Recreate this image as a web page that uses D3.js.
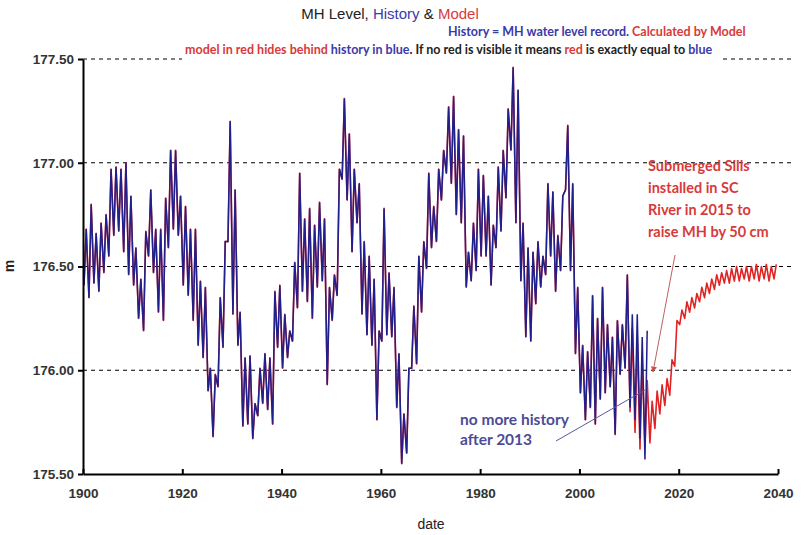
<!DOCTYPE html>
<html>
<head>
<meta charset="utf-8">
<script src="https://cdn.jsdelivr.net/npm/d3@7"></script>
<style>
  body { margin: 0; background: #fff; }
  svg { display: block; }
  .tick text { font-family: "Liberation Sans", Arial, sans-serif; font-weight: bold; font-size: 13.5px; fill: #333; }
</style>
</head>
<body>
<div id="chart"></div>
<script>
// MH water level, history (record) and model, one high and one low per year
var histStart = 1900;
var histHigh = [
  176.68,176.80,176.66,176.71,176.75,176.97,176.98,176.97,177.00,176.84,
  176.59,176.44,176.67,176.87,176.68,176.68,176.83,177.06,177.06,176.84,
  176.79,176.68,176.68,176.43,176.40,176.01,175.98,176.35,176.62,177.20,
  176.87,176.28,176.06,176.07,175.84,176.01,176.08,176.06,176.38,176.41,
  176.27,176.19,176.52,176.95,176.73,176.78,176.70,176.81,176.73,176.40,
  176.46,176.97,177.31,177.14,176.97,176.90,176.62,176.55,176.44,176.19,
  176.78,176.47,176.40,176.08,175.79,176.01,176.31,176.55,176.62,176.95,
  176.79,176.97,177.06,177.27,177.32,177.16,177.13,176.57,176.71,176.97,
  176.94,176.84,176.70,176.98,177.06,177.26,177.46,177.35,176.71,176.59,
  176.57,176.62,176.55,176.90,176.86,176.65,176.84,177.18,176.90,176.40,
  176.12,176.09,176.36,176.25,176.40,176.22,176.16,176.24,176.22,176.46,
  176.27,176.27,176.16,176.19
];
var histLow = [
  176.41,176.35,176.42,176.38,176.47,176.55,176.65,176.67,176.57,176.46,
  176.41,176.25,176.19,176.55,176.47,176.28,176.24,176.59,176.68,176.65,
  176.41,176.36,176.24,176.12,176.06,175.90,175.68,175.92,176.11,176.62,
  176.27,176.12,175.73,175.74,175.67,175.78,175.84,175.81,175.74,176.11,
  176.01,176.06,176.14,176.30,176.38,176.33,176.25,176.40,176.43,175.93,
  176.24,176.36,176.92,176.82,176.57,176.71,176.27,176.17,176.12,175.76,
  176.14,176.17,176.16,175.82,175.55,175.60,176.01,176.03,176.28,176.49,
  176.59,176.62,176.82,176.95,176.90,176.75,176.71,176.40,176.43,176.48,
  176.55,176.55,176.41,176.59,176.67,176.83,177.06,176.71,176.43,176.16,
  176.14,176.32,176.40,176.46,176.55,176.38,176.48,176.87,176.48,176.08,
  175.89,175.76,175.82,175.74,175.86,175.89,175.92,175.69,175.98,176.01,
  175.82,175.76,175.67,175.57
];
// model departs from history from 2010 on (before that it equals history)
var modelStart = 2010;
var modelHigh = [
  176.20,176.15,176.05,175.95,175.85,175.90,175.93,175.96,176.05,176.24,
  176.29,176.33,176.35,176.37,176.40,176.42,176.44,176.46,176.47,176.48,
  176.49,176.50,176.49,176.50,176.50,176.51,176.50,176.51,176.50,176.51
];
var modelLow = [
  175.80,175.70,175.62,175.63,175.65,175.72,175.79,175.83,175.88,176.02,
  176.22,176.25,176.28,176.30,176.33,176.35,176.37,176.39,176.41,176.42,
  176.42,176.43,176.43,176.44,176.43,176.44,176.43,176.44,176.43,176.44
];
var yTicks = [175.5, 176.0, 176.5, 177.0, 177.5];
var xTicks = [1900, 1920, 1940, 1960, 1980, 2000, 2020, 2040];

var svgWidth = 801, svgHeight = 535;
var svg = d3.select("#chart").append("svg")
  .attr("width", svgWidth)
  .attr("height", svgHeight);

var x = d3.scaleLinear().domain([1900, 2040]).range([83, 778]);
var y = d3.scaleLinear().domain([175.5, 177.5]).range([474, 59]);

// turn yearly high/low into a zig-zag series
function zigzag(start, hi, lo) {
  var pts = [];
  hi.forEach(function(h, i) {
    pts.push({ t: start + i + 0.2, v: lo[i] });
    pts.push({ t: start + i + 0.65, v: h });
  });
  return pts;
}

var histPts = zigzag(histStart, histHigh, histLow);
var nSame = modelStart - histStart;
var modelPts = zigzag(histStart, histHigh.slice(0, nSame), histLow.slice(0, nSame))
  .concat(zigzag(modelStart, modelHigh, modelLow));

var levelLine = d3.line().x(d => x(d.t)).y(d => y(d.v));

// grid lines
svg.append("g").selectAll("line")
  .data(yTicks.slice(1))
  .enter().append("line")
  .attr("x1", 83).attr("x2", 794)
  .attr("y1", d => y(d)).attr("y2", d => y(d))
  .attr("stroke", "#000")
  .attr("stroke-width", 1)
  .attr("stroke-dasharray", "4,4");

// model (red) behind history (blue)
svg.append("path")
  .datum(modelPts)
  .attr("d", levelLine)
  .attr("fill", "none")
  .attr("stroke", "#e02424")
  .attr("stroke-width", 1.6)
  .attr("stroke-linejoin", "round");

svg.append("path")
  .datum(histPts)
  .attr("d", levelLine)
  .attr("fill", "none")
  .attr("stroke", "#20208c")
  .attr("stroke-width", 1.5)
  .attr("stroke-linejoin", "miter");

// axes
svg.append("g")
  .attr("transform", "translate(83,0)")
  .call(d3.axisLeft(y).tickValues(yTicks).tickFormat(d3.format(".2f")).tickSize(5).tickSizeOuter(0).tickPadding(4));
svg.append("g")
  .attr("transform", "translate(0,474)")
  .call(d3.axisBottom(x).tickValues(xTicks).tickFormat(d3.format("d")).tickSize(-5).tickSizeOuter(0).tickPadding(14));
svg.selectAll(".domain").attr("stroke", "#000").attr("stroke-width", 2);
svg.selectAll(".tick line").attr("stroke", "#000").attr("stroke-width", 2);

// axis titles
svg.append("text")
  .attr("x", 431).attr("y", 529)
  .attr("text-anchor", "middle")
  .style("font-family", "Liberation Sans, Arial, sans-serif")
  .style("font-size", "14px")
  .attr("fill", "#222")
  .text("date");
svg.append("text")
  .attr("transform", "translate(14,266) rotate(-90)")
  .attr("text-anchor", "middle")
  .style("font-family", "Liberation Sans, Arial, sans-serif")
  .style("font-size", "14px")
  .style("font-weight", "bold")
  .attr("fill", "#222")
  .text("m");

// titles
var blue = "#3a3aa8", red = "#d83a3a";
var title = svg.append("text")
  .attr("x", 390).attr("y", 19)
  .attr("text-anchor", "middle")
  .style("font-family", "Liberation Sans, Arial, sans-serif")
  .style("font-size", "15px")
  .attr("fill", "#222");
title.append("tspan").text("MH Level, ");
title.append("tspan").attr("fill", blue).text("History");
title.append("tspan").text(" & ");
title.append("tspan").attr("fill", red).text("Model");

var sub = svg.append("text")
  .attr("x", 448).attr("y", 36)
  .style("font-family", "Lato, sans-serif")
  .style("font-size", "12.5px")
  .style("font-weight", "bold");
sub.append("tspan").attr("fill", blue).text("History = MH water level record. ");
sub.append("tspan").attr("fill", red).text("Calculated by Model");

svg.append("rect")
  .attr("x", 182).attr("y", 41).attr("width", 538).attr("height", 21)
  .attr("fill", "#fff");
var note = svg.append("text")
  .attr("x", 185).attr("y", 54)
  .style("font-family", "Lato, sans-serif")
  .style("font-size", "12.5px")
  .style("font-weight", "bold");
note.append("tspan").attr("fill", red).text("model in red hides behind ");
note.append("tspan").attr("fill", blue).text("history in blue");
note.append("tspan").attr("fill", "#222").text(". If no red is visible it means ");
note.append("tspan").attr("fill", red).text("red");
note.append("tspan").attr("fill", "#222").text(" is exactly equal to ");
note.append("tspan").attr("fill", blue).text("blue");

// annotations
var sills = ["Submerged Sills", "installed in SC", "River in 2015 to", "raise MH by 50 cm"];
svg.append("g").selectAll("text")
  .data(sills)
  .enter().append("text")
  .attr("x", 648)
  .attr("y", (d, i) => 171 + i * 22)
  .style("font-family", "Lato, sans-serif")
  .style("font-size", "14.5px")
  .style("font-weight", "bold")
  .attr("fill", "#d83a3a")
  .text(d => d);

svg.append("defs").append("marker")
  .attr("id", "arrow")
  .attr("viewBox", "0 0 10 10")
  .attr("refX", 9).attr("refY", 5)
  .attr("markerWidth", 6).attr("markerHeight", 6)
  .attr("orient", "auto")
  .append("path")
  .attr("d", "M0,0L10,5L0,10z")
  .attr("fill", "#c55050");
svg.append("line")
  .attr("x1", 675).attr("y1", 255)
  .attr("x2", 653).attr("y2", 372)
  .attr("stroke", "#c06060")
  .attr("stroke-width", 1)
  .attr("marker-end", "url(#arrow)");

var noMore = ["no more history", "after 2013"];
svg.append("g").selectAll("text")
  .data(noMore)
  .enter().append("text")
  .attr("x", 460)
  .attr("y", (d, i) => 425 + i * 20)
  .style("font-family", "Lato, sans-serif")
  .style("font-size", "15.5px")
  .style("font-weight", "bold")
  .attr("fill", "#4c4c96")
  .text(d => d);
svg.append("line")
  .attr("x1", 556).attr("y1", 441)
  .attr("x2", 645).attr("y2", 390)
  .attr("stroke", "#5a5aa0")
  .attr("stroke-width", 1);
</script>
</body>
</html>
